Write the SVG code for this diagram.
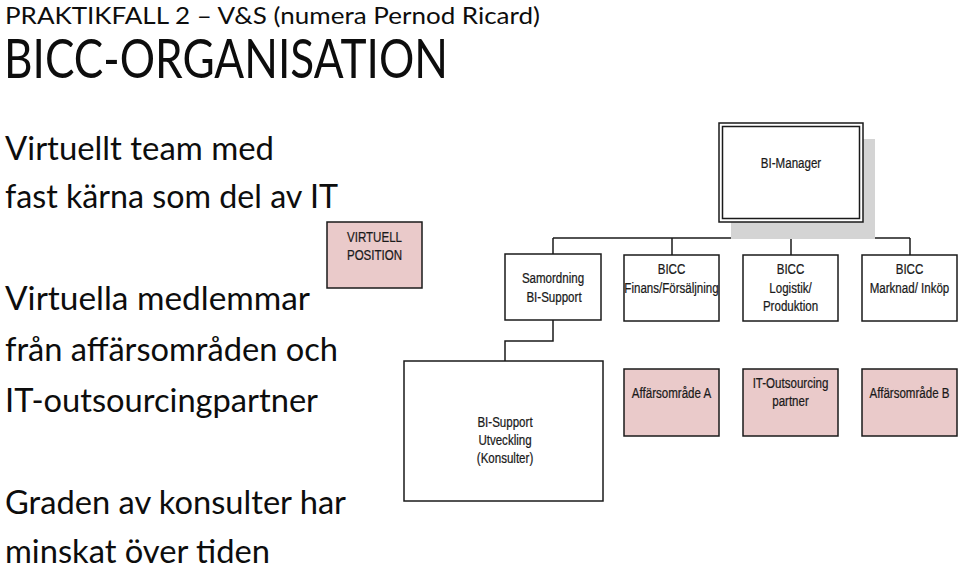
<svg xmlns="http://www.w3.org/2000/svg" width="960" height="571" viewBox="0 0 960 571">
<style>
.bg{fill:#ffffff}
.box{fill:#ffffff;stroke:#1a1a1a;stroke-width:1.5}
.pink{fill:#eacaca;stroke:#1a1a1a;stroke-width:1.5}
.shadow{fill:#d4d4d4}
.lbl{font-family:"Liberation Sans",Arial,sans-serif;font-size:15px;fill:#1a1a1a;stroke:#1a1a1a;stroke-width:0.25;text-anchor:middle}
.big{font-family:Lato,"Open Sans",sans-serif;fill:#0d0d0d}
.conn{fill:none;stroke:#1a1a1a;stroke-width:1.5}
</style>
<rect class="bg" x="0" y="0" width="960" height="571"/>

<g id="title">
<text class="big" x="5" y="24" font-size="24" textLength="535" lengthAdjust="spacingAndGlyphs">PRAKTIKFALL 2 – V&amp;S (numera Pernod Ricard)</text>
<text class="big" x="4" y="78" font-size="54" textLength="444" lengthAdjust="spacingAndGlyphs">BICC-ORGANISATION</text>
</g>

<g id="left-text">
<text class="big" x="5" y="160" font-size="33" textLength="269" lengthAdjust="spacingAndGlyphs">Virtuellt team med</text>
<text class="big" x="5" y="208" font-size="33" textLength="333" lengthAdjust="spacingAndGlyphs">fast kärna som del av IT</text>
<text class="big" x="5" y="310" font-size="33" textLength="305" lengthAdjust="spacingAndGlyphs">Virtuella medlemmar</text>
<text class="big" x="5" y="361" font-size="33" textLength="333" lengthAdjust="spacingAndGlyphs">från affärsområden och</text>
<text class="big" x="5" y="412" font-size="33" textLength="313" lengthAdjust="spacingAndGlyphs">IT-outsourcingpartner</text>
<text class="big" x="5" y="514" font-size="33" textLength="341" lengthAdjust="spacingAndGlyphs">Graden av konsulter har</text>
<text class="big" x="5" y="563" font-size="33" textLength="265" lengthAdjust="spacingAndGlyphs">minskat över tiden</text>
</g>

<g id="connectors">
<path class="conn" d="M791 222 V238"/>
<path class="conn" d="M553 238 H910"/>
<path class="conn" d="M553 238 V254"/>
<path class="conn" d="M672 238 V255"/>
<path class="conn" d="M791 238 V255"/>
<path class="conn" d="M910 238 V255"/>
<path class="conn" d="M553 320 V341 H505 V361"/>
</g>

<g id="bi-manager">
<rect class="shadow" x="731" y="139" width="144" height="100"/>
<rect class="box" x="719" y="123" width="144" height="99"/>
<rect class="box" x="722.5" y="126.5" width="137" height="92"/>
<text class="lbl" transform="translate(791,168) scale(0.77,1)">BI-Manager</text>
</g>

<g id="virtuell-position">
<rect class="pink" x="327" y="222" width="95" height="66"/>
<text class="lbl" transform="translate(374.5,242) scale(0.77,1)">VIRTUELL</text>
<text class="lbl" transform="translate(374.5,259.5) scale(0.77,1)">POSITION</text>
</g>

<g id="samordning">
<rect class="box" x="505" y="254" width="96" height="66"/>
<text class="lbl" transform="translate(553,283) scale(0.77,1)">Samordning</text>
<text class="lbl" transform="translate(554,302) scale(0.77,1)">BI-Support</text>
</g>

<g id="bicc-finans">
<rect class="box" x="624" y="255" width="95" height="66"/>
<text class="lbl" transform="translate(671.5,274) scale(0.77,1)">BICC</text>
<text class="lbl" transform="translate(671.5,292.5) scale(0.77,1)">Finans/Försäljning</text>
</g>

<g id="bicc-logistik">
<rect class="box" x="743" y="255" width="95" height="66"/>
<text class="lbl" transform="translate(790.5,274) scale(0.77,1)">BICC</text>
<text class="lbl" transform="translate(790.5,292.5) scale(0.77,1)">Logistik/</text>
<text class="lbl" transform="translate(790.5,311) scale(0.77,1)">Produktion</text>
</g>

<g id="bicc-marknad">
<rect class="box" x="862" y="255" width="95" height="66"/>
<text class="lbl" transform="translate(909.5,274) scale(0.77,1)">BICC</text>
<text class="lbl" transform="translate(909.5,292.5) scale(0.77,1)">Marknad/ Inköp</text>
</g>

<g id="bi-support-utveckling">
<rect class="box" x="404" y="361" width="199" height="140"/>
<text class="lbl" transform="translate(505,427) scale(0.77,1)">BI-Support</text>
<text class="lbl" transform="translate(505,445) scale(0.77,1)">Utveckling</text>
<text class="lbl" transform="translate(505,463) scale(0.77,1)">(Konsulter)</text>
</g>

<g id="affarsomrade-a">
<rect class="pink" x="624" y="369" width="95" height="67"/>
<text class="lbl" transform="translate(671.5,398) scale(0.77,1)">Affärsområde A</text>
</g>

<g id="it-outsourcing">
<rect class="pink" x="743" y="369" width="95" height="67"/>
<text class="lbl" transform="translate(790.5,388) scale(0.77,1)">IT-Outsourcing</text>
<text class="lbl" transform="translate(790.5,406) scale(0.77,1)">partner</text>
</g>

<g id="affarsomrade-b">
<rect class="pink" x="862" y="369" width="95" height="67"/>
<text class="lbl" transform="translate(909.5,398) scale(0.77,1)">Affärsområde B</text>
</g>
</svg>
